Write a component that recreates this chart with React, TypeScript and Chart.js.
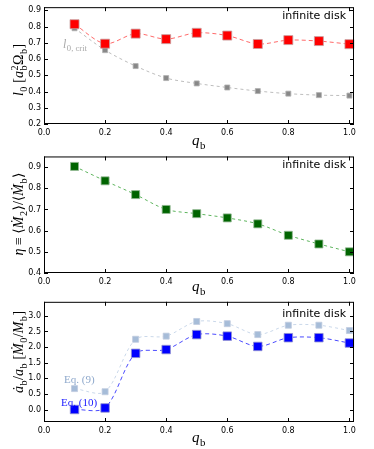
import React, { useEffect, useRef } from "react";
import { Chart, registerables } from "chart.js";
Chart.register(...registerables);

// ---------- data ----------
const qb = [0.1, 0.2, 0.3, 0.4, 0.5, 0.6, 0.7, 0.8, 0.9, 1.0];
const l0 = [0.815, 0.695, 0.757, 0.723, 0.762, 0.745, 0.693, 0.717, 0.711, 0.692];
const l0crit = [0.79, 0.655, 0.557, 0.483, 0.45, 0.425, 0.403, 0.387, 0.378, 0.375];
const eta = [0.903, 0.835, 0.77, 0.7, 0.68, 0.66, 0.632, 0.578, 0.537, 0.5];
const adotEq9 = [0.67, 0.57, 2.25, 2.35, 2.82, 2.75, 2.4, 2.7, 2.7, 2.53];
const adotEq10 = [0.0, 0.05, 1.8, 1.92, 2.4, 2.35, 2.02, 2.3, 2.3, 2.13];

const xTicks = [0, 0.2, 0.4, 0.6, 0.8, 1.0];
const yTicks1 = [0.2, 0.3, 0.4, 0.5, 0.6, 0.7, 0.8, 0.9];
const yTicks2 = [0.4, 0.5, 0.6, 0.7, 0.8, 0.9];
const yTicks3 = [0.0, 0.5, 1.0, 1.5, 2.0, 2.5, 3.0];

const panelLabel = "infinite disk";

type Tok = { t: string; it?: boolean; sub?: string; sup?: string };

const xTitle: Tok[] = [{ t: "q", it: true, sub: "b" }];
const yTitle1: Tok[] = [
  { t: "l", it: true, sub: "0" },
  { t: " [" },
  { t: "a", it: true, sub: "b", sup: "2" },
  { t: "Ω", sub: "b" },
  { t: "]" },
];
const yTitle2: Tok[] = [
  { t: "η", it: true },
  { t: " ≡ ⟨" },
  { t: "M\u0307", it: true, sub: "2" },
  { t: "⟩/⟨" },
  { t: "M\u0307", it: true, sub: "b" },
  { t: "⟩" },
];
const yTitle3: Tok[] = [
  { t: "a\u0307", it: true, sub: "b" },
  { t: "/" },
  { t: "a", it: true, sub: "b" },
  { t: " [" },
  { t: "M\u0307", it: true, sub: "0" },
  { t: "/" },
  { t: "M", it: true, sub: "b" },
  { t: "]" },
];
const critLabel: Tok[] = [{ t: "l", it: true, sub: "0, crit" }];

const SERIF = "'Liberation Serif', 'DejaVu Serif', serif";
const SANS = "'DejaVu Sans', sans-serif";

function drawRich(
  ctx: CanvasRenderingContext2D,
  toks: Tok[],
  x: number,
  y: number,
  size: number,
  color: string,
  rotate: boolean,
  align: "center" | "left" = "center"
) {
  const small = size * 0.72;
  const mainFont = (it?: boolean) => `${it ? "italic " : ""}${size}px ${SERIF}`;
  const smallFont = `${small}px ${SERIF}`;
  const widths = toks.map((tk) => {
    ctx.font = mainFont(tk.it);
    const wm = ctx.measureText(tk.t).width;
    ctx.font = smallFont;
    const ws = Math.max(tk.sub ? ctx.measureText(tk.sub).width : 0, tk.sup ? ctx.measureText(tk.sup).width : 0);
    return { wm, ws };
  });
  const total = widths.reduce((s, w) => s + w.wm + w.ws + (w.ws ? 1 : 0), 0);
  ctx.save();
  ctx.translate(x, y);
  if (rotate) ctx.rotate(-Math.PI / 2);
  ctx.fillStyle = color;
  ctx.textBaseline = "alphabetic";
  ctx.textAlign = "left";
  let cx = align === "center" ? -total / 2 : 0;
  const base = size * 0.32;
  toks.forEach((tk, i) => {
    ctx.font = mainFont(tk.it);
    ctx.fillText(tk.t, cx, base);
    cx += widths[i].wm;
    if (tk.sub || tk.sup) {
      ctx.font = smallFont;
      if (tk.sub) ctx.fillText(tk.sub, cx + 0.5, base + size * 0.25);
      if (tk.sup) ctx.fillText(tk.sup, cx + 0.5, base - size * 0.42);
      cx += widths[i].ws + 1;
    }
  });
  ctx.restore();
}

type Note = { toks: Tok[]; x: number; y: number; color: string; size: number };

type PanelProps = {
  top: number;
  height: number;
  areaTop: number;
  areaBottom: number;
  yMin: number;
  yMax: number;
  yTicks: number[];
  yTitle: Tok[];
  yTitleY: number;
  xTitleY: number;
  labelY: number;
  datasets: any[];
  notes: Note[];
};

const AREA_LEFT = 44;
const AREA_RIGHT = 354;
const W = 374;

function Panel(p: PanelProps) {
  const ref = useRef<HTMLCanvasElement>(null);
  useEffect(() => {
    const canvas = ref.current!;
    const frame = {
      id: "frame",
      afterDraw(chart: any) {
        const ctx = chart.ctx as CanvasRenderingContext2D;
        const a = chart.chartArea;
        const xs = chart.scales.x;
        const ys = chart.scales.y;
        ctx.save();
        ctx.strokeStyle = "#000";
        ctx.lineWidth = 1;
        ctx.strokeRect(a.left + 0.5, a.top + 0.5, a.right - a.left - 1, a.bottom - a.top - 1);
        ctx.beginPath();
        const tl = 4;
        xTicks.forEach((v) => {
          const px = Math.round(xs.getPixelForValue(v)) + 0.5;
          ctx.moveTo(px, a.bottom);
          ctx.lineTo(px, a.bottom - tl);
          ctx.moveTo(px, a.top);
          ctx.lineTo(px, a.top + tl);
        });
        p.yTicks.forEach((v) => {
          const py = Math.round(ys.getPixelForValue(v)) + 0.5;
          ctx.moveTo(a.left, py);
          ctx.lineTo(a.left + tl, py);
          ctx.moveTo(a.right, py);
          ctx.lineTo(a.right - tl, py);
        });
        ctx.stroke();
        // label
        ctx.font = `11px ${SANS}`;
        ctx.fillStyle = "#000";
        ctx.textAlign = "right";
        ctx.textBaseline = "middle";
        ctx.fillText(panelLabel, a.right - 8, p.labelY);
        // titles
        drawRich(ctx, xTitle, (a.left + a.right) / 2, p.xTitleY, 15, "#000", false);
        drawRich(ctx, p.yTitle, 19, p.yTitleY, 14, "#000", true);
        p.notes.forEach((n) => drawRich(ctx, n.toks, n.x, n.y, n.size, n.color, false, "left"));
        ctx.restore();
      },
    };
    const chart = new Chart(canvas, {
      type: "line",
      data: { datasets: p.datasets },
      options: {
        animation: false,
        responsive: false,
        devicePixelRatio: 1,
        layout: { padding: { left: 0, right: W - AREA_RIGHT, top: p.areaTop, bottom: 0 } },
        plugins: { legend: { display: false }, tooltip: { enabled: false } },
        scales: {
          x: {
            type: "linear",
            min: 0,
            max: 1.015,
            grid: { display: false, drawTicks: false },
            border: { display: false },
            afterBuildTicks: (s: any) => {
              s.ticks = xTicks.map((v) => ({ value: v }));
            },
            afterFit: (s: any) => {
              s.height = p.height - p.areaBottom;
              s.paddingLeft = 0;
              s.paddingRight = 0;
              s.paddingTop = 0;
              s.paddingBottom = 0;
            },
            ticks: {
              padding: 4,
              maxRotation: 0,
              autoSkip: false,
              color: "#000",
              font: { family: SANS, size: 8 },
              callback: (v: any) => Number(v).toFixed(1),
            },
          },
          y: {
            type: "linear",
            min: p.yMin,
            max: p.yMax,
            grid: { display: false, drawTicks: false },
            border: { display: false },
            afterBuildTicks: (s: any) => {
              s.ticks = p.yTicks.map((v) => ({ value: v }));
            },
            afterFit: (s: any) => {
              s.width = AREA_LEFT;
              s.paddingLeft = 0;
              s.paddingRight = 0;
              s.paddingTop = 0;
              s.paddingBottom = 0;
            },
            ticks: {
              padding: 3,
              autoSkip: false,
              color: "#000",
              font: { family: SANS, size: 8 },
              callback: (v: any) => Number(v).toFixed(1),
            },
          },
        },
      },
      plugins: [frame],
    } as any);
    return () => chart.destroy();
  }, []);
  return (
    <canvas
      ref={ref}
      width={W}
      height={p.height}
      style={{ position: "absolute", left: 0, top: p.top, width: W, height: p.height }}
    />
  );
}

function series(ys: number[], color: string, line: string, size: number, dash: number[], edge: string) {
  return {
    data: qb.map((q, i) => ({ x: q, y: ys[i] })),
    borderColor: line,
    borderWidth: 1,
    borderDash: dash,
    tension: 0.3,
    pointStyle: "rect",
    pointRadius: size / Math.SQRT2,
    pointBackgroundColor: color,
    pointBorderColor: edge,
    pointBorderWidth: 0.8,
    clip: false,
  };
}

export default function App() {
  return (
    <div style={{ position: "absolute", left: 0, top: 0, width: W, height: 449, background: "#fff" }}>
      <Panel
        top={0}
        height={150}
        areaTop={5}
        areaBottom={124}
        yMin={0.2}
        yMax={0.92}
        yTicks={yTicks1}
        yTitle={yTitle1}
        yTitleY={70}
        xTitleY={140}
        labelY={16}
        datasets={[
          series(l0, "#ff0000", "rgba(255,80,80,0.85)", 9, [4, 3], "#c8a0a0"),
          series(l0crit, "#888888", "#bdbdbd", 5, [3, 3], "#b0b0b0"),
        ]}
        notes={[{ toks: critLabel, x: 63, y: 44, color: "#a8a8a8", size: 12 }]}
      />
      <Panel
        top={150}
        height={145}
        areaTop={4}
        areaBottom={123}
        yMin={0.4}
        yMax={0.95}
        yTicks={yTicks2}
        yTitle={yTitle2}
        yTitleY={64}
        xTitleY={136}
        labelY={15}
        datasets={[series(eta, "#006400", "#5fb55f", 8, [3, 3], "#8fb88f")]}
        notes={[]}
      />
      <Panel
        top={295}
        height={154}
        areaTop={5}
        areaBottom={127}
        yMin={-0.4}
        yMax={3.45}
        yTicks={yTicks3}
        yTitle={yTitle3}
        yTitleY={57}
        xTitleY={142}
        labelY={19}
        datasets={[
          series(adotEq10, "#0000ff", "#4a4aff", 8.5, [4, 3], "#9090d0"),
          series(adotEq9, "#a6bcd8", "#cad8ea", 6, [3, 3], "#c0cce0"),
        ]}
        notes={[
          { toks: [{ t: "Eq. (9)" }], x: 64, y: 84, color: "#8fa9cc", size: 11 },
          { toks: [{ t: "Eq. (10)" }], x: 61, y: 107, color: "#1a1aff", size: 11 },
        ]}
      />
    </div>
  );
}
